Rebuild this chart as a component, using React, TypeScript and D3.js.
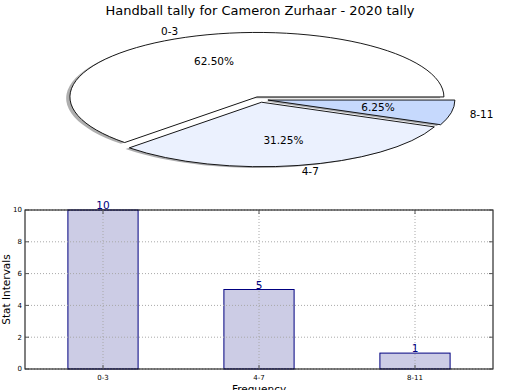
import React, { useEffect, useRef } from 'react';
import * as d3 from 'd3';

const categories = ['0-3', '4-7', '8-11'];
const counts = [10, 5, 1];
const sliceColors = ['#ffffff', '#ebf1fe', '#c6d9fd'];
const yTicks = [0, 2, 4, 6, 8, 10];

const FONT = '"DejaVu Sans", sans-serif';

const App: React.FC = () => {
  const svgRef = useRef<SVGSVGElement>(null);

  useEffect(() => {
    if (!svgRef.current) return;
    const svg = d3.select(svgRef.current);
    svg.selectAll('*').remove();

    svg.append('rect').attr('width', 520).attr('height', 390).attr('fill', '#ffffff');

    // title
    svg.append('text')
      .attr('x', 260).attr('y', 15)
      .attr('text-anchor', 'middle')
      .style('font-family', FONT).style('font-size', '13px')
      .text('Handball tally for Cameron Zurhaar - 2020 tally');

    // ---- pie (squashed, matplotlib style: counterclockwise from east) ----
    const cx = 260, cy = 99.5, rx = 187, ry = 64.5, explode = 0.043;
    const pie = d3.pie<number>().sort(null).startAngle(0).endAngle(2 * Math.PI);
    const arcs = pie(counts);
    const total = d3.sum(counts);

    const pt = (ox: number, oy: number, a: number, f = 1) =>
      [ox + f * rx * Math.cos(a), oy - f * ry * Math.sin(a)];

    const wedgePath = (ox: number, oy: number, a0: number, a1: number) => {
      const [x0, y0] = pt(ox, oy, a0);
      const [x1, y1] = pt(ox, oy, a1);
      const large = a1 - a0 > Math.PI ? 1 : 0;
      return `M${ox},${oy}L${x0},${y0}A${rx},${ry} 0 ${large} 0 ${x1},${y1}Z`;
    };

    const centers = arcs.map((d) => {
      const mid = (d.startAngle + d.endAngle) / 2;
      return pt(cx, cy, mid, explode);
    });

    const pieG = svg.append('g');
    // shadows first
    arcs.forEach((d, i) => {
      const [ox, oy] = centers[i];
      const c = d3.rgb(sliceColors[i]);
      pieG.append('path')
        .attr('d', wedgePath(ox - 0.02 * rx, oy + 0.02 * ry, d.startAngle, d.endAngle))
        .attr('fill', d3.rgb(c.r * 0.3, c.g * 0.3, c.b * 0.3).toString())
        .attr('fill-opacity', 0.45)
        .attr('stroke', 'none');
    });
    arcs.forEach((d, i) => {
      const [ox, oy] = centers[i];
      pieG.append('path')
        .attr('d', wedgePath(ox, oy, d.startAngle, d.endAngle))
        .attr('fill', sliceColors[i])
        .attr('stroke', '#000')
        .attr('stroke-width', 0.9)
        .attr('stroke-linejoin', 'round');
    });
    arcs.forEach((d, i) => {
      const [ox, oy] = centers[i];
      const mid = (d.startAngle + d.endAngle) / 2;
      const [lx, ly] = pt(ox, oy, mid, 1.1);
      pieG.append('text')
        .attr('x', lx).attr('y', ly)
        .attr('dy', '0.35em')
        .attr('text-anchor', Math.cos(mid) < 0 ? 'end' : 'start')
        .style('font-family', FONT).style('font-size', '10.5px')
        .text(categories[i]);
      const [px, py] = pt(ox, oy, mid, 0.6);
      pieG.append('text')
        .attr('x', px).attr('y', py)
        .attr('dy', '0.35em')
        .attr('text-anchor', 'middle')
        .style('font-family', FONT).style('font-size', '10.5px')
        .text(`${((counts[i] / total) * 100).toFixed(2)}%`);
    });

    // ---- bar chart ----
    const left = 25, right = 493, top = 210, bottom = 369;
    const x = d3.scaleLinear().domain([-0.5, categories.length - 0.5]).range([left, right]);
    const y = d3.scaleLinear().domain([0, 10]).range([bottom, top]);
    const barW = 0.45;

    const g = svg.append('g');

    // bars
    g.selectAll('rect.bar')
      .data(counts)
      .enter()
      .append('rect')
      .attr('class', 'bar')
      .attr('x', (_, i) => x(i - barW / 2))
      .attr('width', (_, i) => x(i + barW / 2) - x(i - barW / 2))
      .attr('y', (d) => y(d))
      .attr('height', (d) => bottom - y(d))
      .attr('fill', '#ccccE5')
      .attr('stroke', '#000080')
      .attr('stroke-width', 1);

    // grid on top of bars
    categories.forEach((_, i) => {
      g.append('line')
        .attr('x1', x(i)).attr('x2', x(i))
        .attr('y1', top).attr('y2', bottom)
        .attr('stroke', '#a8a8a8').attr('stroke-dasharray', '1,2');
    });
    yTicks.forEach((t) => {
      g.append('line')
        .attr('x1', left).attr('x2', right)
        .attr('y1', y(t)).attr('y2', y(t))
        .attr('stroke', '#a8a8a8').attr('stroke-dasharray', '1,2');
    });

    // bar value labels
    g.selectAll('text.val')
      .data(counts)
      .enter()
      .append('text')
      .attr('class', 'val')
      .attr('x', (_, i) => x(i))
      .attr('y', (d) => y(d) - 1)
      .attr('text-anchor', 'middle')
      .attr('fill', '#000080')
      .style('font-family', FONT).style('font-size', '10.5px')
      .text((d) => d);

    // frame
    g.append('rect')
      .attr('x', left).attr('y', top)
      .attr('width', right - left).attr('height', bottom - top)
      .attr('fill', 'none').attr('stroke', '#000').attr('stroke-width', 1);

    // ticks (inward, all sides)
    yTicks.forEach((t) => {
      g.append('line').attr('x1', left).attr('x2', left + 4).attr('y1', y(t)).attr('y2', y(t)).attr('stroke', '#555');
      g.append('line').attr('x1', right - 4).attr('x2', right).attr('y1', y(t)).attr('y2', y(t)).attr('stroke', '#555');
      g.append('text')
        .attr('x', left - 3).attr('y', y(t))
        .attr('dy', '0.35em')
        .attr('text-anchor', 'end')
        .style('font-family', FONT).style('font-size', '7px')
        .text(t);
    });
    categories.forEach((c, i) => {
      g.append('line').attr('x1', x(i)).attr('x2', x(i)).attr('y1', bottom - 4).attr('y2', bottom).attr('stroke', '#555');
      g.append('line').attr('x1', x(i)).attr('x2', x(i)).attr('y1', top).attr('y2', top + 4).attr('stroke', '#555');
      g.append('text')
        .attr('x', x(i)).attr('y', bottom + 11)
        .attr('text-anchor', 'middle')
        .style('font-family', FONT).style('font-size', '7px')
        .text(c);
    });

    // axis labels
    g.append('text')
      .attr('transform', `translate(6,${(top + bottom) / 2}) rotate(-90)`)
      .attr('text-anchor', 'middle')
      .attr('dy', '0.35em')
      .style('font-family', FONT).style('font-size', '10.5px')
      .text('Stat Intervals');
    g.append('text')
      .attr('x', (left + right) / 2).attr('y', bottom + 24)
      .attr('text-anchor', 'middle')
      .style('font-family', FONT).style('font-size', '10.5px')
      .text('Frequency');
  }, []);

  return <svg ref={svgRef} width={520} height={390} style={{ position: 'absolute', left: 0, top: 0 }} />;
};

export default App;
